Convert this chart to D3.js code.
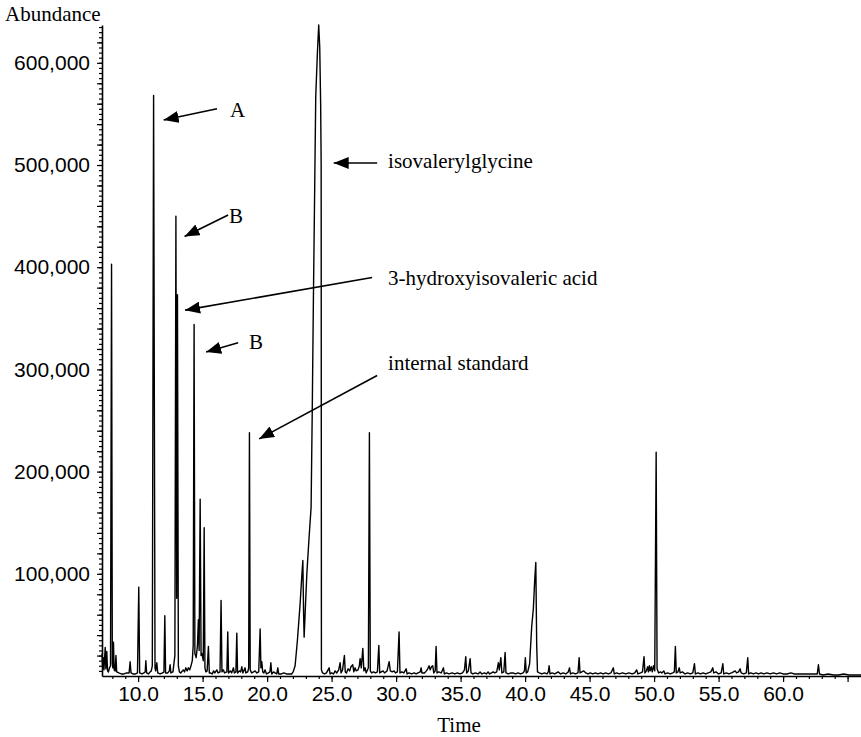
<!DOCTYPE html>
<html>
<head>
<meta charset="utf-8">
<script src="https://cdn.jsdelivr.net/npm/d3@7"></script>
<style>
  html, body { margin: 0; padding: 0; background: #fff; }
  svg { display: block; }
</style>
</head>
<body>
<svg id="chart"></svg>
<script>
// chromatogram: [time (min), abundance (thousands)]
const trace07to15 = [
  [7.20, 22], [7.25, 8], [7.30, 18], [7.35, 6], [7.45, 28], [7.50, 7], [7.57, 24], [7.63, 5],
  [7.70, 4], [7.78, 8], [7.86, 10], [7.94, 403], [8.00, 12], [8.04, 8], [8.09, 33], [8.14, 6],
  [8.22, 5], [8.28, 20], [8.34, 4], [8.50, 3], [8.70, 2], [8.90, 2], [9.10, 3], [9.30, 3],
  [9.38, 14], [9.45, 3], [9.60, 2], [9.80, 2], [9.95, 3], [10.05, 87], [10.12, 3], [10.30, 2],
  [10.45, 3], [10.55, 4], [10.60, 15], [10.66, 3], [10.80, 2], [10.93, 4], [11.02, 5], [11.10, 10],
  [11.20, 568], [11.31, 8], [11.36, 5], [11.45, 13], [11.52, 3], [11.70, 2], [11.90, 3], [12.00, 4],
  [12.07, 59], [12.13, 3], [12.30, 3], [12.42, 5], [12.48, 11], [12.54, 3], [12.70, 4], [12.85, 20],
  [12.93, 450], [12.99, 76], [13.05, 373], [13.12, 10], [13.20, 4], [13.30, 3], [13.50, 6], [13.60, 4],
  [13.70, 8], [13.80, 5], [13.90, 8], [14.00, 6], [14.10, 10], [14.20, 15], [14.27, 30], [14.34, 344],
  [14.40, 22], [14.50, 18], [14.60, 30], [14.67, 55], [14.73, 25], [14.81, 173], [14.88, 20], [14.95, 22],
  [15.05, 15], [15.12, 145], [15.18, 8], [15.25, 4], [15.35, 5], [15.45, 29], [15.52, 3]
];

const trace15to25 = [
  [15.60, 3], [15.75, 2], [15.85, 5], [15.95, 3], [16.10, 6], [16.20, 3], [16.35, 4], [16.43, 74],
  [16.50, 4], [16.61, 6], [16.70, 3], [16.88, 4], [16.95, 43], [17.01, 3], [17.15, 5], [17.25, 3],
  [17.39, 8], [17.46, 3], [17.58, 4], [17.65, 42], [17.71, 3], [17.85, 5], [17.95, 4], [18.04, 9],
  [18.12, 3], [18.29, 8], [18.35, 3], [18.50, 4], [18.57, 8], [18.63, 238], [18.69, 6], [18.80, 3],
  [18.95, 4], [19.07, 5], [19.20, 3], [19.35, 4], [19.46, 46], [19.52, 8], [19.59, 14], [19.66, 4],
  [19.75, 3], [19.84, 6], [19.95, 2], [20.10, 3], [20.22, 4], [20.29, 13], [20.36, 2], [20.50, 4],
  [20.62, 3], [20.75, 2], [20.83, 8], [20.90, 2], [21.10, 2], [21.30, 3], [21.50, 2], [21.70, 2],
  [21.90, 2], [22.02, 4], [22.17, 10], [22.35, 35], [22.56, 71], [22.70, 100], [22.77, 113], [22.83, 60],
  [22.87, 38], [22.95, 62], [23.08, 100], [23.25, 135], [23.41, 165], [23.50, 260], [23.59, 370], [23.77, 567],
  [23.90, 610], [24.00, 637], [24.08, 615], [24.15, 560], [24.19, 500], [24.21, 6], [24.30, 3], [24.45, 2],
  [24.60, 3], [24.81, 8], [24.88, 2]
];

const trace25to45 = [
  [25.00, 3], [25.15, 2], [25.27, 5], [25.40, 3], [25.55, 6], [25.66, 13], [25.73, 3], [25.85, 6],
  [25.99, 20], [26.06, 4], [26.15, 3], [26.28, 7], [26.40, 5], [26.50, 9], [26.64, 11], [26.72, 4],
  [26.82, 8], [26.90, 5], [27.05, 6], [27.15, 10], [27.21, 17], [27.30, 8], [27.42, 27], [27.50, 5],
  [27.60, 8], [27.68, 3], [27.85, 8], [27.93, 238], [28.00, 5], [28.10, 3], [28.25, 4], [28.40, 3],
  [28.55, 4], [28.66, 30], [28.73, 3], [28.85, 4], [28.99, 5], [29.10, 3], [29.30, 5], [29.46, 14],
  [29.55, 5], [29.70, 4], [29.84, 5], [29.95, 3], [30.10, 4], [30.23, 43], [30.30, 3], [30.45, 4],
  [30.60, 3], [30.78, 7], [30.85, 2], [31.00, 3], [31.20, 2], [31.40, 3], [31.55, 2], [31.70, 3],
  [31.87, 4], [31.94, 8], [32.00, 3], [32.20, 3], [32.35, 5], [32.45, 7], [32.56, 10], [32.64, 6],
  [32.74, 9], [32.84, 10], [32.92, 3], [33.03, 5], [33.10, 29], [33.17, 3], [33.30, 4], [33.50, 3],
  [33.67, 8], [33.74, 2], [33.90, 3], [34.10, 2], [34.34, 3], [34.55, 2], [34.75, 3], [34.95, 2],
  [35.15, 3], [35.30, 6], [35.40, 19], [35.47, 3], [35.60, 5], [35.74, 17], [35.81, 3], [35.95, 2],
  [36.15, 3], [36.35, 2], [36.51, 4], [36.65, 2], [36.85, 3], [37.00, 2], [37.13, 4], [37.25, 2],
  [37.40, 3], [37.52, 4], [37.65, 3], [37.80, 4], [37.93, 13], [38.00, 6], [38.12, 18], [38.20, 3],
  [38.35, 4], [38.45, 23], [38.52, 3], [38.70, 2], [38.90, 3], [39.07, 3], [39.25, 2], [39.45, 3],
  [39.65, 2], [39.85, 3], [39.95, 5], [40.02, 18], [40.09, 3], [40.20, 4], [40.35, 12], [40.51, 48],
  [40.64, 66], [40.75, 95], [40.83, 111], [40.90, 30], [40.96, 4], [41.10, 3], [41.30, 2], [41.50, 3],
  [41.70, 2], [41.80, 4], [41.86, 10], [41.93, 2], [42.10, 3], [42.30, 2], [42.56, 4], [42.75, 2],
  [42.95, 3], [43.15, 2], [43.35, 4], [43.44, 8], [43.52, 2], [43.70, 3], [43.90, 2], [44.10, 3],
  [44.19, 18], [44.26, 3], [44.40, 4], [44.55, 5], [44.70, 3], [44.88, 2]
];

const trace45to66 = [
  [45.05, 3], [45.25, 2], [45.45, 3], [45.65, 2], [45.85, 3], [46.05, 2], [46.25, 3], [46.45, 2],
  [46.65, 3], [46.84, 8], [46.91, 2], [47.10, 3], [47.30, 2], [47.55, 3], [47.80, 2], [48.05, 3],
  [48.30, 2], [48.50, 3], [48.65, 6], [48.75, 2], [48.95, 3], [49.10, 4], [49.22, 19], [49.29, 3],
  [49.40, 5], [49.50, 9], [49.56, 4], [49.63, 10], [49.70, 5], [49.78, 9], [49.86, 4], [49.95, 10],
  [50.05, 5], [50.16, 219], [50.23, 7], [50.35, 3], [50.50, 4], [50.60, 3], [50.75, 5], [50.85, 2],
  [51.05, 3], [51.25, 2], [51.45, 3], [51.57, 4], [51.65, 29], [51.72, 3], [51.85, 4], [51.95, 8],
  [52.02, 3], [52.20, 4], [52.40, 2], [52.60, 3], [52.80, 2], [53.00, 3], [53.13, 12], [53.20, 2],
  [53.40, 3], [53.60, 2], [53.80, 3], [54.00, 2], [54.20, 3], [54.40, 4], [54.55, 8], [54.62, 3],
  [54.80, 4], [55.00, 2], [55.20, 3], [55.33, 12], [55.40, 2], [55.60, 3], [55.80, 2], [56.00, 3],
  [56.15, 4], [56.28, 5], [56.40, 3], [56.55, 4], [56.67, 7], [56.75, 3], [56.95, 2], [57.15, 3],
  [57.26, 18], [57.33, 2], [57.50, 3], [57.70, 2], [57.90, 3], [58.10, 2], [58.30, 3], [58.50, 2],
  [58.75, 3], [59.00, 2], [59.25, 3], [59.50, 2], [59.75, 3], [60.00, 2], [60.30, 2], [60.60, 3],
  [60.90, 2], [61.20, 2], [61.50, 2], [61.80, 2], [62.10, 2], [62.40, 2], [62.65, 2], [62.74, 11],
  [62.82, 2], [63.10, 1], [63.50, 2], [63.90, 1], [64.30, 1], [64.70, 2], [65.10, 1], [65.50, 1],
  [66.04, 1]
];

// axis ticks and labels
const yLabelValues = [100000, 200000, 300000, 400000, 500000, 600000];
const xLabelValues = [10, 15, 20, 25, 30, 35, 40, 45, 50, 55, 60];

// peak annotations: arrow tip, arrow tail, label anchor as [time, abundance in thousands]
const annotationLabels = ['A', 'B', 'isovalerylglycine', '3-hydroxyisovaleric acid', 'B', 'internal standard'];
const annotationTips  = [[11.98, 544], [13.60, 430], [25.16, 502], [13.64, 358], [15.27, 317], [19.38, 232]];
const annotationTails = [[16.12, 555], [16.98, 451], [28.53, 502], [28.14, 390], [17.75, 326], [28.53, 294]];
const annotationText  = [[17.13, 547], [17.05, 443], [29.38, 497], [29.38, 383], [18.60, 320], [29.38, 299]];

const width = 861, height = 737;
const margin = {top: 25, right: 0, bottom: 61, left: 102};

const svg = d3.select('#chart')
  .attr('width', width)
  .attr('height', height);

const x = d3.scaleLinear()
  .domain([7.2, 66.04])
  .range([margin.left, width - margin.right]);

const y = d3.scaleLinear()
  .domain([0, 637000])
  .range([height - margin.bottom, margin.top]);

const trace = [].concat(trace07to15, trace15to25, trace25to45, trace45to66);

// the trace
const line = d3.line()
  .x(d => x(d[0]))
  .y(d => y(d[1] * 1000));

svg.append('path')
  .datum(trace)
  .attr('fill', 'none')
  .attr('stroke', '#000')
  .attr('stroke-width', 1.4)
  .attr('stroke-linejoin', 'round')
  .attr('d', line);

// Y axis: minor ticks every 5,000, major every 20,000, labels every 100,000
svg.append('g')
  .attr('transform', `translate(${margin.left},0)`)
  .call(d3.axisLeft(y).tickValues(d3.range(5000, 637000, 5000)).tickSize(3).tickFormat(''))
  .call(g => g.select('.domain').remove());

svg.append('g')
  .attr('transform', `translate(${margin.left},0)`)
  .call(d3.axisLeft(y).tickValues(d3.range(20000, 637000, 20000)).tickSize(5).tickFormat(''))
  .call(g => g.select('.domain').remove());

svg.append('g')
  .attr('transform', `translate(${margin.left},0)`)
  .call(d3.axisLeft(y).tickValues(yLabelValues).tickSize(0).tickPadding(12).tickFormat(d3.format(',')))
  .call(g => g.select('.domain').attr('stroke-width', 1.6))
  .selectAll('text')
  .attr('font-family', '"Liberation Sans", Arial, sans-serif')
  .attr('font-size', 21)
  .attr('fill', '#000');

// X axis: ticks every minute, longer and labelled every 5
svg.append('g')
  .attr('transform', `translate(0,${height - margin.bottom})`)
  .call(d3.axisBottom(x).tickValues(d3.range(8, 66, 1)).tickSize(3).tickFormat(''))
  .call(g => g.select('.domain').remove());

svg.append('g')
  .attr('transform', `translate(0,${height - margin.bottom})`)
  .call(d3.axisBottom(x).tickValues(d3.range(10, 66, 5)).tickSize(6).tickFormat(''))
  .call(g => g.select('.domain').remove());

svg.append('g')
  .attr('transform', `translate(0,${height - margin.bottom})`)
  .call(d3.axisBottom(x).tickValues(xLabelValues).tickSize(0).tickPadding(10).tickFormat(d3.format('.1f')))
  .call(g => g.select('.domain').attr('stroke-width', 1.6))
  .selectAll('text')
  .attr('font-family', '"Liberation Sans", Arial, sans-serif')
  .attr('font-size', 21)
  .attr('fill', '#000');

svg.selectAll('.tick line').attr('stroke', '#000').attr('stroke-width', 1.2);
svg.selectAll('.domain').attr('stroke', '#000');

// axis titles
svg.append('text')
  .attr('x', 5)
  .attr('y', 21)
  .attr('font-family', '"Liberation Serif", "Times New Roman", serif')
  .attr('font-size', 21)
  .text('Abundance');

svg.append('text')
  .attr('x', 459)
  .attr('y', 732)
  .attr('text-anchor', 'middle')
  .attr('font-family', '"Liberation Serif", "Times New Roman", serif')
  .attr('font-size', 21)
  .text('Time');

// arrow head
svg.append('defs').append('marker')
  .attr('id', 'head')
  .attr('markerUnits', 'userSpaceOnUse')
  .attr('markerWidth', 16)
  .attr('markerHeight', 12)
  .attr('viewBox', '0 0 16 12')
  .attr('refX', 15)
  .attr('refY', 6)
  .attr('orient', 'auto')
  .append('path')
  .attr('d', 'M0,0 L15,6 L0,12 Z')
  .attr('fill', '#000');

const notes = svg.append('g');

notes.selectAll('line')
  .data(annotationLabels)
  .join('line')
  .attr('x1', (d, i) => x(annotationTails[i][0]))
  .attr('y1', (d, i) => y(annotationTails[i][1] * 1000))
  .attr('x2', (d, i) => x(annotationTips[i][0]))
  .attr('y2', (d, i) => y(annotationTips[i][1] * 1000))
  .attr('stroke', '#000')
  .attr('stroke-width', 1.6)
  .attr('marker-end', 'url(#head)');

notes.selectAll('text')
  .data(annotationLabels)
  .join('text')
  .attr('x', (d, i) => x(annotationText[i][0]))
  .attr('y', (d, i) => y(annotationText[i][1] * 1000))
  .attr('font-family', '"Liberation Serif", "Times New Roman", serif')
  .attr('font-size', 21)
  .text(d => d);
</script>
</body>
</html>
